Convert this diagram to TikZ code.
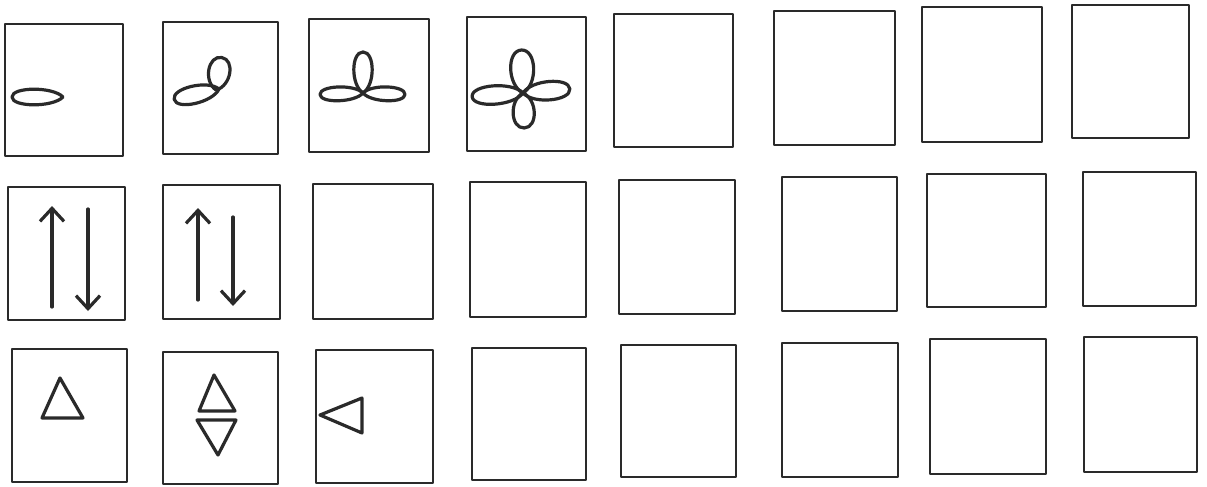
\documentclass[tikz,border=0pt]{standalone}
\usetikzlibrary{arrows.meta}
\definecolor{ink}{HTML}{2A2A2A}
\tikzset{
  frame/.style={draw=ink, line width=2.6pt, line join=round},
  shp/.style={draw=ink, line width=3.2pt, line join=round, line cap=round},
  arr/.style={shp, -{Straight Barb[length=13pt, width=24pt, line width=3.2pt]}},
}
\newcommand{\petal}[5]{%
  \draw[shp, shift={(#1,#2)}, rotate=#3]
    (0,0) .. controls (0.2*#4, -1.25*#5) and (#4, -1.2*#5) .. (#4,0)
          .. controls (#4, 1.2*#5) and (0.2*#4, 1.25*#5) .. (0,0);}
\begin{document}
\begin{tikzpicture}[x=1pt, y=-1pt]
\useasboundingbox[fill=white] (0,0) rectangle (1207,487);
% ---- row 1 frames
\draw[frame] (5,24) rectangle (123,156);
\draw[frame] (163,22) rectangle (278,154);
\draw[frame] (309,19) rectangle (429,152);
\draw[frame] (467,17) rectangle (586,151);
\draw[frame] (614,14) rectangle (733,147);
\draw[frame] (774,11) rectangle (895,145);
\draw[frame] (922,7) rectangle (1042,142);
\draw[frame] (1072,5) rectangle (1189,138);
% ---- row 2 frames
\draw[frame] (8,187) rectangle (125,320);
\draw[frame] (163,185) rectangle (280,319);
\draw[frame] (313,184) rectangle (433,319);
\draw[frame] (470,182) rectangle (586,317);
\draw[frame] (619,180) rectangle (735,314);
\draw[frame] (782,177) rectangle (897,311);
\draw[frame] (927,174) rectangle (1046,307);
\draw[frame] (1083,172) rectangle (1196,306);
% ---- row 3 frames
\draw[frame] (12,349) rectangle (127,482);
\draw[frame] (163,352) rectangle (278,484);
\draw[frame] (316,350) rectangle (433,483);
\draw[frame] (472,348) rectangle (586,480);
\draw[frame] (621,345) rectangle (736,477);
\draw[frame] (782,343) rectangle (898,477);
\draw[frame] (930,339) rectangle (1046,474);
\draw[frame] (1084,337) rectangle (1197,472);
% ---- row 1 figures (petals)
\petal{63}{97}{180}{51}{8.5}
\petal{219}{89}{193}{46}{9.5}
\petal{216}{90}{80}{33}{11.5}
\petal{363}{93}{182}{43}{7.5}
\petal{363}{93}{-2}{42}{7.5}
\petal{363}{93}{90}{41}{10}
\petal{523}{93}{184}{51}{10}
\petal{523}{93}{5}{47}{10}
\petal{523}{93}{92}{43}{12.5}
\petal{523}{93}{272}{35}{11.5}
% ---- row 2 arrows
\draw[arr] (52,307) -- (52,206);
\draw[arr] (88,209) -- (88,311);
\draw[arr] (198,300) -- (198,208);
\draw[arr] (233,217) -- (233,306);
% ---- row 3 triangles
\draw[shp] (60,378) -- (42,418) -- (83,418) -- cycle;
\draw[shp] (214,375) -- (199,411) -- (235,411) -- cycle;
\draw[shp] (197,420) -- (236,420) -- (218,455) -- cycle;
\draw[shp] (320,415) -- (362,398) -- (362,433) -- cycle;
\end{tikzpicture}
\end{document}
